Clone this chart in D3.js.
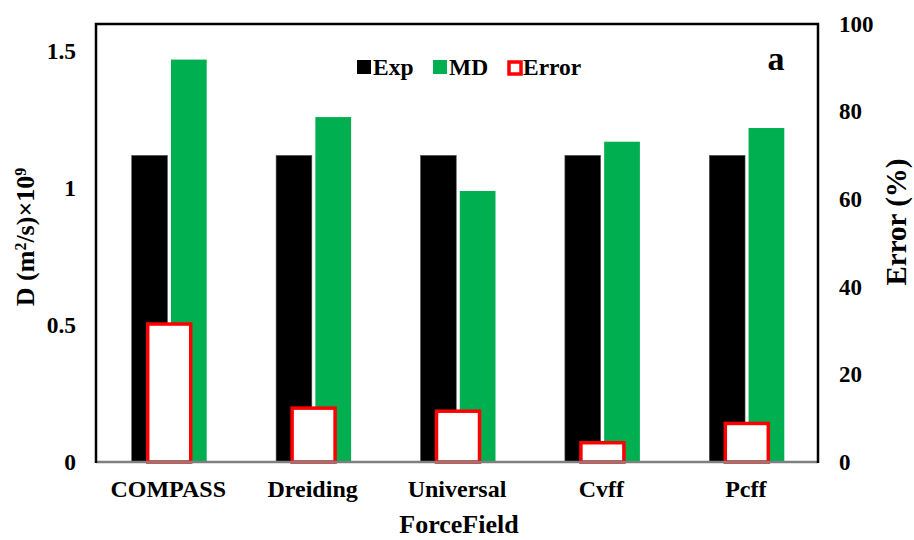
<!DOCTYPE html>
<html>
<head>
<meta charset="utf-8">
<script src="https://cdn.jsdelivr.net/npm/d3@7"></script>
<style>
  body { margin: 0; background: #fff; }
  text { font-family: "Liberation Serif", "Times New Roman", serif; font-weight: bold; fill: #000; }
</style>
</head>
<body>
<div id="chart"></div>
<script>
// data
let fields = ["COMPASS", "Dreiding", "Universal", "Cvff", "Pcff"];
let expD = [1.12, 1.12, 1.12, 1.12, 1.12];
let mdD = [1.47, 1.26, 0.99, 1.17, 1.22];
let errPct = [31.5, 12.3, 11.6, 4.4, 8.8];
let leftTicks = [0, 0.5, 1, 1.5];
let rightTicks = [0, 20, 40, 60, 80, 100];

let width = 914, height = 540;
let margin = {left: 96, right: 96, top: 24, bottom: 78};
let plotW = width - margin.left - margin.right;
let plotH = height - margin.top - margin.bottom;

let svg = d3.select("#chart").append("svg")
  .attr("width", width)
  .attr("height", height);

let g = svg.append("g")
  .attr("transform", "translate(" + margin.left + "," + margin.top + ")");

let xScale = d3.scaleBand().domain(fields).range([0, plotW]);
let yLeft = d3.scaleLinear().domain([0, 1.6]).range([plotH, 0]);
let yRight = d3.scaleLinear().domain([0, 100]).range([plotH, 0]);

// inner band for the two primary series
let inner = d3.scaleBand().domain(["Exp", "MD"]).range([0, 75]).paddingInner(0.09);
let groupOff = (xScale.bandwidth() - 75) / 2 + 1;

let rows = fields.map(function(f, i) {
  return {field: f, exp: expD[i], md: mdD[i], err: errPct[i]};
});

// Exp bars
g.selectAll(".exp").data(rows).enter().append("rect")
  .attr("class", "exp")
  .attr("x", function(d) { return xScale(d.field) + groupOff + inner("Exp"); })
  .attr("y", function(d) { return yLeft(d.exp); })
  .attr("width", inner.bandwidth())
  .attr("height", function(d) { return plotH - yLeft(d.exp); })
  .attr("fill", "#000")
  .attr("stroke", "#555")
  .attr("stroke-width", 0.6);

// MD bars
g.selectAll(".md").data(rows).enter().append("rect")
  .attr("class", "md")
  .attr("x", function(d) { return xScale(d.field) + groupOff + inner("MD"); })
  .attr("y", function(d) { return yLeft(d.md); })
  .attr("width", inner.bandwidth())
  .attr("height", function(d) { return plotH - yLeft(d.md); })
  .attr("fill", "#00B050");

// error bars on secondary axis
let errW = 43;
g.selectAll(".err").data(rows).enter().append("rect")
  .attr("class", "err")
  .attr("x", function(d) { return xScale(d.field) + xScale.bandwidth() / 2 + 1 - errW / 2; })
  .attr("y", function(d) { return yRight(d.err); })
  .attr("width", errW)
  .attr("height", function(d) { return plotH - yRight(d.err); })
  .attr("fill", "#fff")
  .attr("stroke", "#FF0000")
  .attr("stroke-width", 3.5);

// frame
g.append("line").attr("x1", 0).attr("x2", plotW).attr("y1", plotH).attr("y2", plotH)
  .attr("stroke", "#7f7f7f").attr("stroke-width", 2.5);
g.append("path")
  .attr("d", "M0," + (plotH + 1) + "V0H" + plotW + "V" + (plotH + 1))
  .attr("fill", "none").attr("stroke", "#000").attr("stroke-width", 2.5);

// left axis
let leftAxis = g.append("g")
  .call(d3.axisLeft(yLeft).tickValues(leftTicks).tickSize(0).tickPadding(20)
    .tickFormat(function(d) { return d3.format("")(d); }));
leftAxis.select(".domain").remove();
leftAxis.selectAll("text").style("font-size", "23.5px").attr("text-anchor", "end");

// right axis
let rightAxis = g.append("g")
  .attr("transform", "translate(" + plotW + ",0)")
  .call(d3.axisRight(yRight).tickValues(rightTicks).tickSize(0).tickPadding(21));
rightAxis.select(".domain").remove();
rightAxis.selectAll("text").style("font-size", "23px").attr("text-anchor", "start");

// x axis labels
let xAxis = g.append("g")
  .attr("transform", "translate(0," + plotH + ")")
  .call(d3.axisBottom(xScale).tickSize(0).tickPadding(18));
xAxis.select(".domain").remove();
xAxis.selectAll("text").style("font-size", "24px").attr("text-anchor", "middle");

// axis titles
svg.append("text")
  .attr("x", margin.left + plotW / 2 + 2)
  .attr("y", 533)
  .attr("text-anchor", "middle")
  .style("font-size", "26px")
  .text("ForceField");

let lt = svg.append("text")
  .attr("transform", "translate(34,237) rotate(-90)")
  .attr("text-anchor", "middle")
  .style("font-size", "26px");
lt.append("tspan").text("D (m");
lt.append("tspan").attr("baseline-shift", "super").style("font-size", "16px").text("2");
lt.append("tspan").text("/s)\u00d710");
lt.append("tspan").attr("baseline-shift", "super").style("font-size", "16px").text("9");

svg.append("text")
  .attr("transform", "translate(906,222) rotate(-90)")
  .attr("text-anchor", "middle")
  .style("font-size", "29px")
  .text("Error (%)");

// panel label
svg.append("text")
  .attr("x", 776).attr("y", 70)
  .attr("text-anchor", "middle")
  .style("font-size", "34px")
  .text("a");

// legend
let legendItems = [
  {name: "Exp", fill: "#000", stroke: "none"},
  {name: "MD", fill: "#00B050", stroke: "none"},
  {name: "Error", fill: "#fff", stroke: "#FF0000"}
];
let legendX = [357, 433, 507];
let legend = svg.append("g");
legendItems.forEach(function(item, i) {
  let s = item.stroke === "none" ? 14 : 12;
  let off = item.stroke === "none" ? 0 : 2;
  legend.append("rect")
    .attr("x", legendX[i] + off).attr("y", 60 + off)
    .attr("width", s).attr("height", s)
    .attr("fill", item.fill)
    .attr("stroke", item.stroke)
    .attr("stroke-width", 3.5);
  legend.append("text")
    .attr("x", legendX[i] + 16).attr("y", 75)
    .style("font-size", "23.5px")
    .text(item.name);
});
</script>
</body>
</html>
